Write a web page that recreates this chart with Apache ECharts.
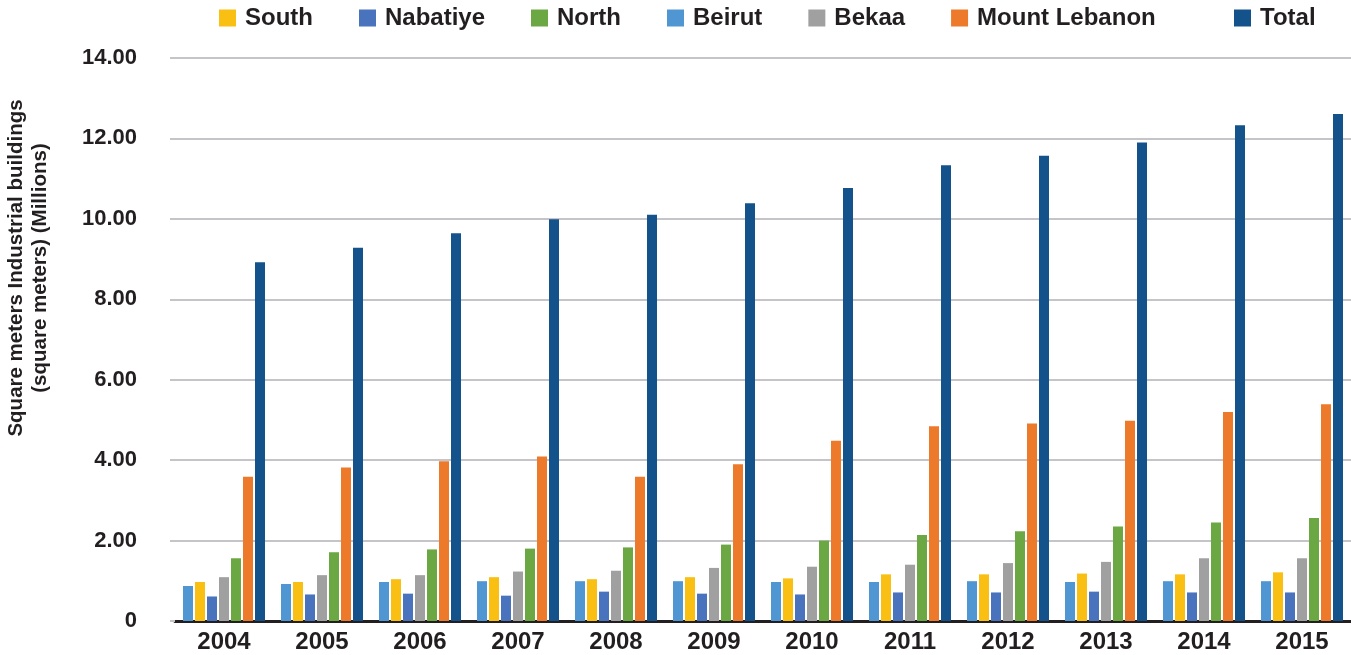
<!DOCTYPE html>
<html>
<head>
<meta charset="utf-8">
<script src="https://cdn.jsdelivr.net/npm/echarts@6/dist/echarts.min.js"></script>
<style>
    html, body { margin: 0; padding: 0; background: #fff; }
    #chart { width: 1351px; height: 655px; }
</style>
</head>
<body>
<div id="chart"></div>
<script>
const years = ['2004', '2005', '2006', '2007', '2008', '2009', '2010', '2011', '2012', '2013', '2014', '2015'];

// values in millions of square meters
const beirut = [0.87, 0.92, 0.97, 0.99, 0.99, 0.99, 0.97, 0.97, 0.99, 0.97, 0.99, 0.99];
const south = [0.97, 0.97, 1.04, 1.09, 1.04, 1.09, 1.06, 1.16, 1.16, 1.18, 1.16, 1.21];
const nabatiye = [0.61, 0.66, 0.68, 0.63, 0.73, 0.68, 0.66, 0.71, 0.71, 0.73, 0.71, 0.71];
const bekaa = [1.09, 1.14, 1.14, 1.23, 1.25, 1.32, 1.35, 1.40, 1.44, 1.47, 1.56, 1.56];
const north = [1.56, 1.71, 1.78, 1.80, 1.83, 1.90, 2.00, 2.14, 2.23, 2.35, 2.45, 2.56];
const mountLebanon = [3.59, 3.82, 3.97, 4.09, 3.59, 3.90, 4.48, 4.84, 4.91, 4.98, 5.20, 5.39];
const total = [8.92, 9.28, 9.64, 9.99, 10.10, 10.39, 10.77, 11.33, 11.57, 11.90, 12.33, 12.61];

// regions in legend order (Total sits apart on the right)
const legendRegions = ['South', 'Nabatiye', 'North', 'Beirut', 'Bekaa', 'Mount Lebanon'];
const legendTotal = ['Total'];

const font = '"Liberation Sans", Arial, sans-serif';

const myChart = echarts.init(document.getElementById('chart'));

function bar(name, data, color) {
    return {
        name: name,
        type: 'bar',
        data: data,
        barWidth: 10,
        barGap: '20%',
        barCategoryGap: '16%',
        itemStyle: { color: color },
    };
}

const legendText = {
    fontFamily: font,
    fontWeight: 'bold',
    fontSize: 24,
    color: '#231f20',
    padding: [0, 0, 0, 4],
};

const option = {
    animation: false,
    backgroundColor: '#ffffff',
    legend: [
        {
            data: legendRegions,
            left: 214,
            top: 1,
            icon: 'rect',
            itemWidth: 17,
            itemHeight: 17,
            itemGap: 46,
            textStyle: legendText,
        },
        {
            data: legendTotal,
            left: 1229,
            top: 1,
            icon: 'rect',
            itemWidth: 17,
            itemHeight: 17,
            textStyle: legendText,
        },
    ],
    grid: {
        left: 175,
        right: 0,
        top: 58,
        bottom: 34,
        outerBoundsMode: 'none',
    },
    xAxis: {
        type: 'category',
        data: years,
        axisLine: { lineStyle: { color: '#231f20', width: 3 } },
        axisTick: { show: false },
        axisLabel: {
            fontFamily: font,
            fontWeight: 'bold',
            fontSize: 24,
            color: '#231f20',
            margin: 9,
            interval: 0,
        },
    },
    yAxis: {
        type: 'value',
        min: 0,
        max: 14,
        interval: 2,
        axisLine: { show: false },
        axisTick: { show: true, length: 5, lineStyle: { color: '#c5c5c9', width: 2 } },
        splitLine: { lineStyle: { color: '#c5c5c9', width: 2 } },
        axisLabel: {
            fontFamily: font,
            fontWeight: 'bold',
            fontSize: 22,
            color: '#231f20',
            margin: 38,
            formatter: function (v) { return v === 0 ? '0' : v.toFixed(2); },
        },
    },
    graphic: [
        {
            type: 'text',
            x: 28,
            y: 268,
            rotation: Math.PI / 2,
            style: {
                text: 'Square meters Industrial buildings\n(square meters) (Millions)',
                fontFamily: font,
                fontWeight: 'bold',
                fontSize: 20.5,
                lineHeight: 24,
                fill: '#231f20',
                align: 'center',
                verticalAlign: 'middle',
            },
        },
    ],
    series: [
        bar('Beirut', beirut, '#5096d2'),
        bar('South', south, '#f9c013'),
        bar('Nabatiye', nabatiye, '#4a73bd'),
        bar('Bekaa', bekaa, '#a0a0a0'),
        bar('North', north, '#6ba843'),
        bar('Mount Lebanon', mountLebanon, '#ec7a2a'),
        bar('Total', total, '#14528b'),
    ],
};

myChart.setOption(option);
</script>
</body>
</html>
